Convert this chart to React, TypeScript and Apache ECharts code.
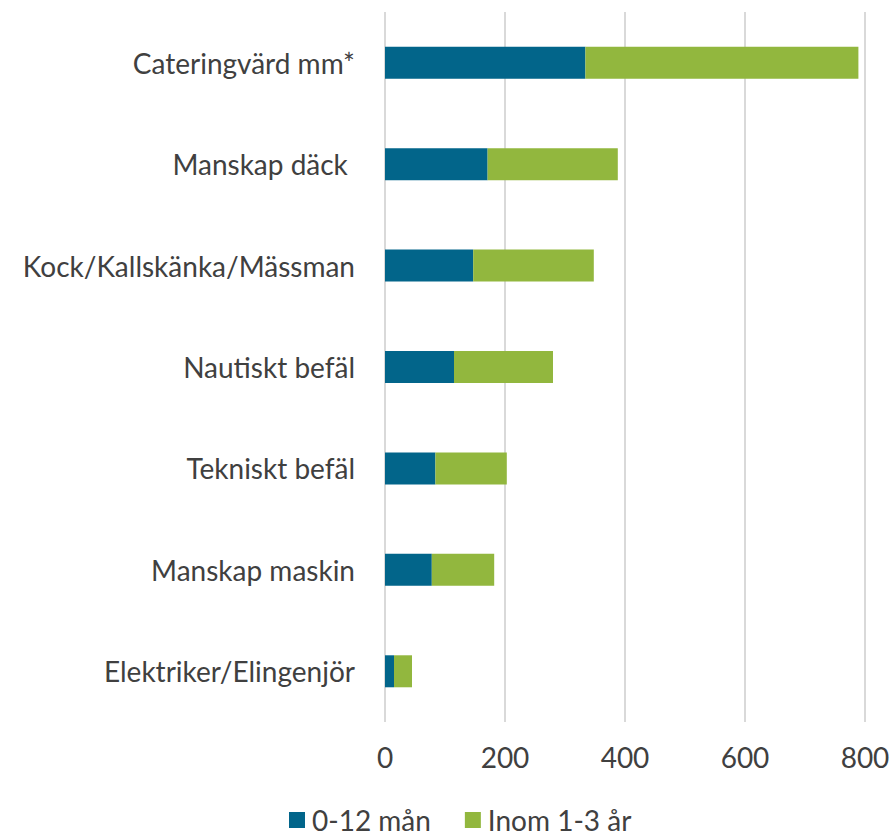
import React, { useEffect, useRef } from "react";
import * as echarts from "echarts";

const categories = [
  "Elektriker/Elingenjör",
  "Manskap maskin",
  "Tekniskt befäl",
  "Nautiskt befäl",
  "Kock/Kallskänka/Mässman",
  "Manskap däck ",
  "Cateringvärd mm*",
];
const series1Name = "0-12 mån";
const series2Name = "Inom 1-3 år";
const values1 = [15, 78, 84, 115, 147, 171, 334];
const values2 = [30, 104, 119, 165, 201, 217, 455];
const xTicks = [0, 200, 400, 600, 800];

const FONT = "Lato, 'Open Sans', sans-serif";
const TEXT = "#404040";

export default function App() {
  const ref = useRef<HTMLDivElement>(null);
  useEffect(() => {
    if (!ref.current) return;
    const chart = echarts.init(ref.current, null, { renderer: "svg" });
    chart.setOption({
      animation: false,
      textStyle: { fontFamily: FONT },
      grid: { left: 385, right: 29, top: 12, bottom: 114, containLabel: false },
      legend: {
        data: [series1Name, series2Name],
        left: 289,
        top: 806,
        padding: 0,
        itemWidth: 16,
        itemHeight: 16,
        itemGap: 34,
        icon: "rect",
        textStyle: { fontSize: 28, color: TEXT, fontFamily: FONT, lineHeight: 28, padding: [0, 0, 0, 2] },
      },
      xAxis: {
        type: "value",
        min: xTicks[0],
        max: xTicks[xTicks.length - 1],
        interval: 200,
        axisLine: { show: false },
        axisTick: { show: false },
        splitLine: { show: true, lineStyle: { color: "#d9d9d9", width: 2 } },
        axisLabel: { fontSize: 28, color: TEXT, margin: 21, fontFamily: FONT },
      },
      yAxis: {
        type: "category",
        data: categories,
        axisLine: { show: false },
        axisTick: { show: false },
        axisLabel: { fontSize: 28, color: TEXT, margin: 30, fontFamily: FONT },
      },
      series: [
        {
          name: series1Name,
          type: "bar",
          stack: "total",
          data: values1,
          barWidth: 32,
          itemStyle: { color: "#02658A" },
        },
        {
          name: series2Name,
          type: "bar",
          stack: "total",
          data: values2,
          barWidth: 32,
          itemStyle: { color: "#92B73E" },
        },
      ],
    });
    return () => chart.dispose();
  }, []);
  return <div ref={ref} style={{ width: 894, height: 836, position: "absolute", left: 0, top: 0 }} />;
}
